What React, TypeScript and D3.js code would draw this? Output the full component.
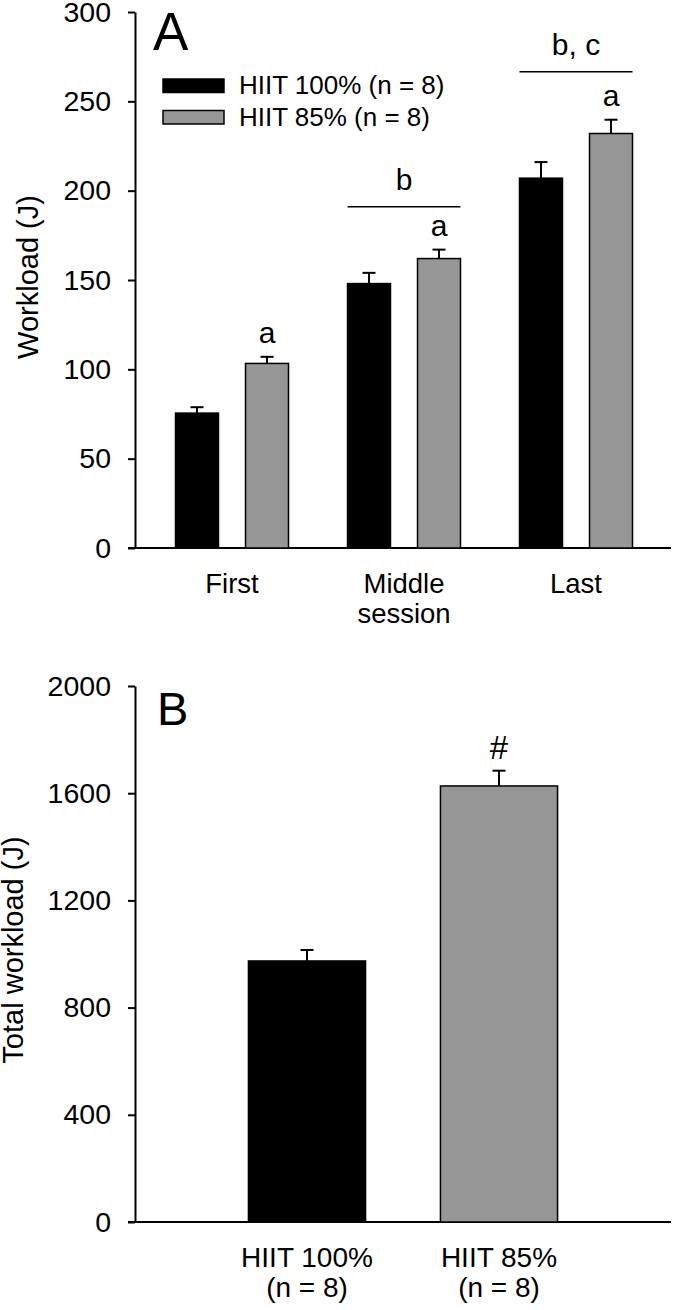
import { useEffect, useRef } from 'react'
import * as d3 from 'd3'

// Panel A: workload per session
const sessions = ['First', 'Middle session', 'Last']
const seriesNames = ['HIIT 100% (n = 8)', 'HIIT 85% (n = 8)']
const hiit100Mean = [75.5, 148, 207]
const hiit100Sem = [3.3, 6, 9]
const hiit85Mean = [103.3, 162, 232]
const hiit85Sem = [3.7, 5, 7.7]
const hiit85Marks = ['a', 'a', 'a']
const sessionSig = [
  { session: 'Middle session', label: 'b', level: 191 },
  { session: 'Last', label: 'b, c', level: 266.5 },
]
const ticksA = [0, 50, 100, 150, 200, 250, 300]

// Panel B: total workload
const groups = ['HIIT 100%', 'HIIT 85%']
const groupSub = ['(n = 8)', '(n = 8)']
const totalMean = [974, 1627]
const totalSem = [41, 57]
const totalMarks = ['', '#']
const ticksB = [0, 400, 800, 1200, 1600, 2000]

const FONT = '"Liberation Sans", Arial, sans-serif'
const GREY = '#969696'
const fills = ['#000', GREY]

export default function App() {
  const svgRef = useRef<SVGSVGElement | null>(null)

  useEffect(() => {
    if (!svgRef.current) return
    const svg = d3.select(svgRef.current)
    svg.selectAll('*').remove()
    svg.attr('font-family', FONT)

    const styleAxis = (g: any) => {
      g.select('.domain').attr('stroke', '#000').attr('stroke-width', 2)
      g.selectAll('.tick line').attr('stroke', '#000').attr('stroke-width', 2)
      g.selectAll('.tick text').attr('fill', '#000').attr('font-size', 28.5).attr('font-family', FONT)
    }

    // ---------- Panel A ----------
    const yA = d3.scaleLinear().domain([0, 300]).range([548, 12])
    const xA = d3.scaleBand<string>().domain(sessions).range([146, 662])
    const x1 = d3.scaleBand<number>().domain([0, 1]).range([29.5, 142.5]).paddingInner(0.386)

    const gA = svg.append('g')

    gA.append('g')
      .attr('transform', 'translate(135,0)')
      .call(d3.axisLeft(yA).tickValues(ticksA).tickFormat(d3.format('d')).tickSize(7).tickSizeOuter(0).tickPadding(17))
      .call(styleAxis)

    gA.append('line')
      .attr('x1', 128).attr('x2', 671)
      .attr('y1', yA(0)).attr('y2', yA(0))
      .attr('stroke', '#000').attr('stroke-width', 2)

    const means = [hiit100Mean, hiit85Mean]
    const sems = [hiit100Sem, hiit85Sem]

    sessions.forEach((s, i) => {
      ;[0, 1].forEach(k => {
        const bx = (xA(s) as number) + (x1(k) as number)
        const bw = x1.bandwidth()
        const cx = bx + bw / 2
        const top = yA(means[k][i])
        const cap = yA(means[k][i] + sems[k][i])
        gA.append('line')
          .attr('x1', cx).attr('x2', cx).attr('y1', top).attr('y2', cap)
          .attr('stroke', '#000').attr('stroke-width', 2)
        gA.append('line')
          .attr('x1', cx - 6.5).attr('x2', cx + 6.5).attr('y1', cap).attr('y2', cap)
          .attr('stroke', '#000').attr('stroke-width', 2)
        gA.append('rect')
          .attr('x', bx).attr('y', top)
          .attr('width', bw).attr('height', yA(0) - top)
          .attr('fill', fills[k]).attr('stroke', '#000').attr('stroke-width', 1.5)
        if (k === 1 && hiit85Marks[i]) {
          gA.append('text')
            .attr('x', cx).attr('y', cap - 14)
            .attr('text-anchor', 'middle').attr('font-size', 30)
            .text(hiit85Marks[i])
        }
      })
    })

    sessionSig.forEach(d => {
      const x0 = (xA(d.session) as number) + (x1(0) as number)
      const xEnd = (xA(d.session) as number) + (x1(1) as number) + x1.bandwidth()
      gA.append('line')
        .attr('x1', x0).attr('x2', xEnd)
        .attr('y1', yA(d.level)).attr('y2', yA(d.level))
        .attr('stroke', '#000').attr('stroke-width', 1.5)
      gA.append('text')
        .attr('x', (x0 + xEnd) / 2).attr('y', yA(d.level) - 17)
        .attr('text-anchor', 'middle').attr('font-size', 30)
        .text(d.label)
    })

    // x labels
    sessions.forEach(s => {
      const words = s.split(' ')
      const t = gA.append('text')
        .attr('x', (xA(s) as number) + xA.bandwidth() / 2)
        .attr('y', 593)
        .attr('text-anchor', 'middle').attr('font-size', 27.5)
      words.forEach((w, j) => {
        t.append('tspan')
          .attr('x', (xA(s) as number) + xA.bandwidth() / 2)
          .attr('dy', j === 0 ? 0 : 30)
          .text(w)
      })
    })

    // legend
    seriesNames.forEach((n, k) => {
      const ly = 79 + k * 31.5
      gA.append('rect')
        .attr('x', 163).attr('y', ly).attr('width', 61).attr('height', 13.5)
        .attr('fill', fills[k]).attr('stroke', '#000').attr('stroke-width', 1.5)
      gA.append('text')
        .attr('x', 239).attr('y', ly + 15)
        .attr('font-size', 26)
        .text(n)
    })

    gA.append('text')
      .attr('x', 153).attr('y', 50).attr('font-size', 53).text('A')

    gA.append('text')
      .attr('transform', 'translate(38,277) rotate(-90)')
      .attr('text-anchor', 'middle').attr('font-size', 29)
      .text('Workload (J)')

    // ---------- Panel B ----------
    const yB = d3.scaleLinear().domain([0, 2000]).range([1222, 686])
    const xB = d3.scaleBand<string>().domain(groups).range([211, 595])
      .paddingInner(0.39).paddingOuter(0.195)

    const gB = svg.append('g')

    gB.append('g')
      .attr('transform', 'translate(135,0)')
      .call(d3.axisLeft(yB).tickValues(ticksB).tickFormat(d3.format('d')).tickSize(7).tickSizeOuter(0).tickPadding(17))
      .call(styleAxis)

    gB.append('line')
      .attr('x1', 128).attr('x2', 671)
      .attr('y1', yB(0)).attr('y2', yB(0))
      .attr('stroke', '#000').attr('stroke-width', 2)

    groups.forEach((g, i) => {
      const bx = xB(g) as number
      const bw = xB.bandwidth()
      const cx = bx + bw / 2
      const top = yB(totalMean[i])
      const cap = yB(totalMean[i] + totalSem[i])
      gB.append('line')
        .attr('x1', cx).attr('x2', cx).attr('y1', top).attr('y2', cap)
        .attr('stroke', '#000').attr('stroke-width', 2)
      gB.append('line')
        .attr('x1', cx - 6.5).attr('x2', cx + 6.5).attr('y1', cap).attr('y2', cap)
        .attr('stroke', '#000').attr('stroke-width', 2)
      gB.append('rect')
        .attr('x', bx).attr('y', top)
        .attr('width', bw).attr('height', yB(0) - top)
        .attr('fill', fills[i]).attr('stroke', '#000').attr('stroke-width', 1.5)
      if (totalMarks[i]) {
        gB.append('text')
          .attr('x', cx).attr('y', cap - 12)
          .attr('text-anchor', 'middle').attr('font-size', 33)
          .text(totalMarks[i])
      }
      gB.append('text')
        .attr('x', cx).attr('y', 1266.5)
        .attr('text-anchor', 'middle').attr('font-size', 28)
        .text(g)
      gB.append('text')
        .attr('x', cx).attr('y', 1297)
        .attr('text-anchor', 'middle').attr('font-size', 28)
        .text(groupSub[i])
    })

    gB.append('text')
      .attr('x', 157).attr('y', 725).attr('font-size', 47).text('B')

    gB.append('text')
      .attr('transform', 'translate(23,950) rotate(-90)')
      .attr('text-anchor', 'middle').attr('font-size', 29)
      .text('Total workload (J)')
  }, [])

  return (
    <svg
      ref={svgRef}
      width={673}
      height={1310}
      style={{ position: 'absolute', left: 0, top: 0, background: '#fff' }}
    />
  )
}
